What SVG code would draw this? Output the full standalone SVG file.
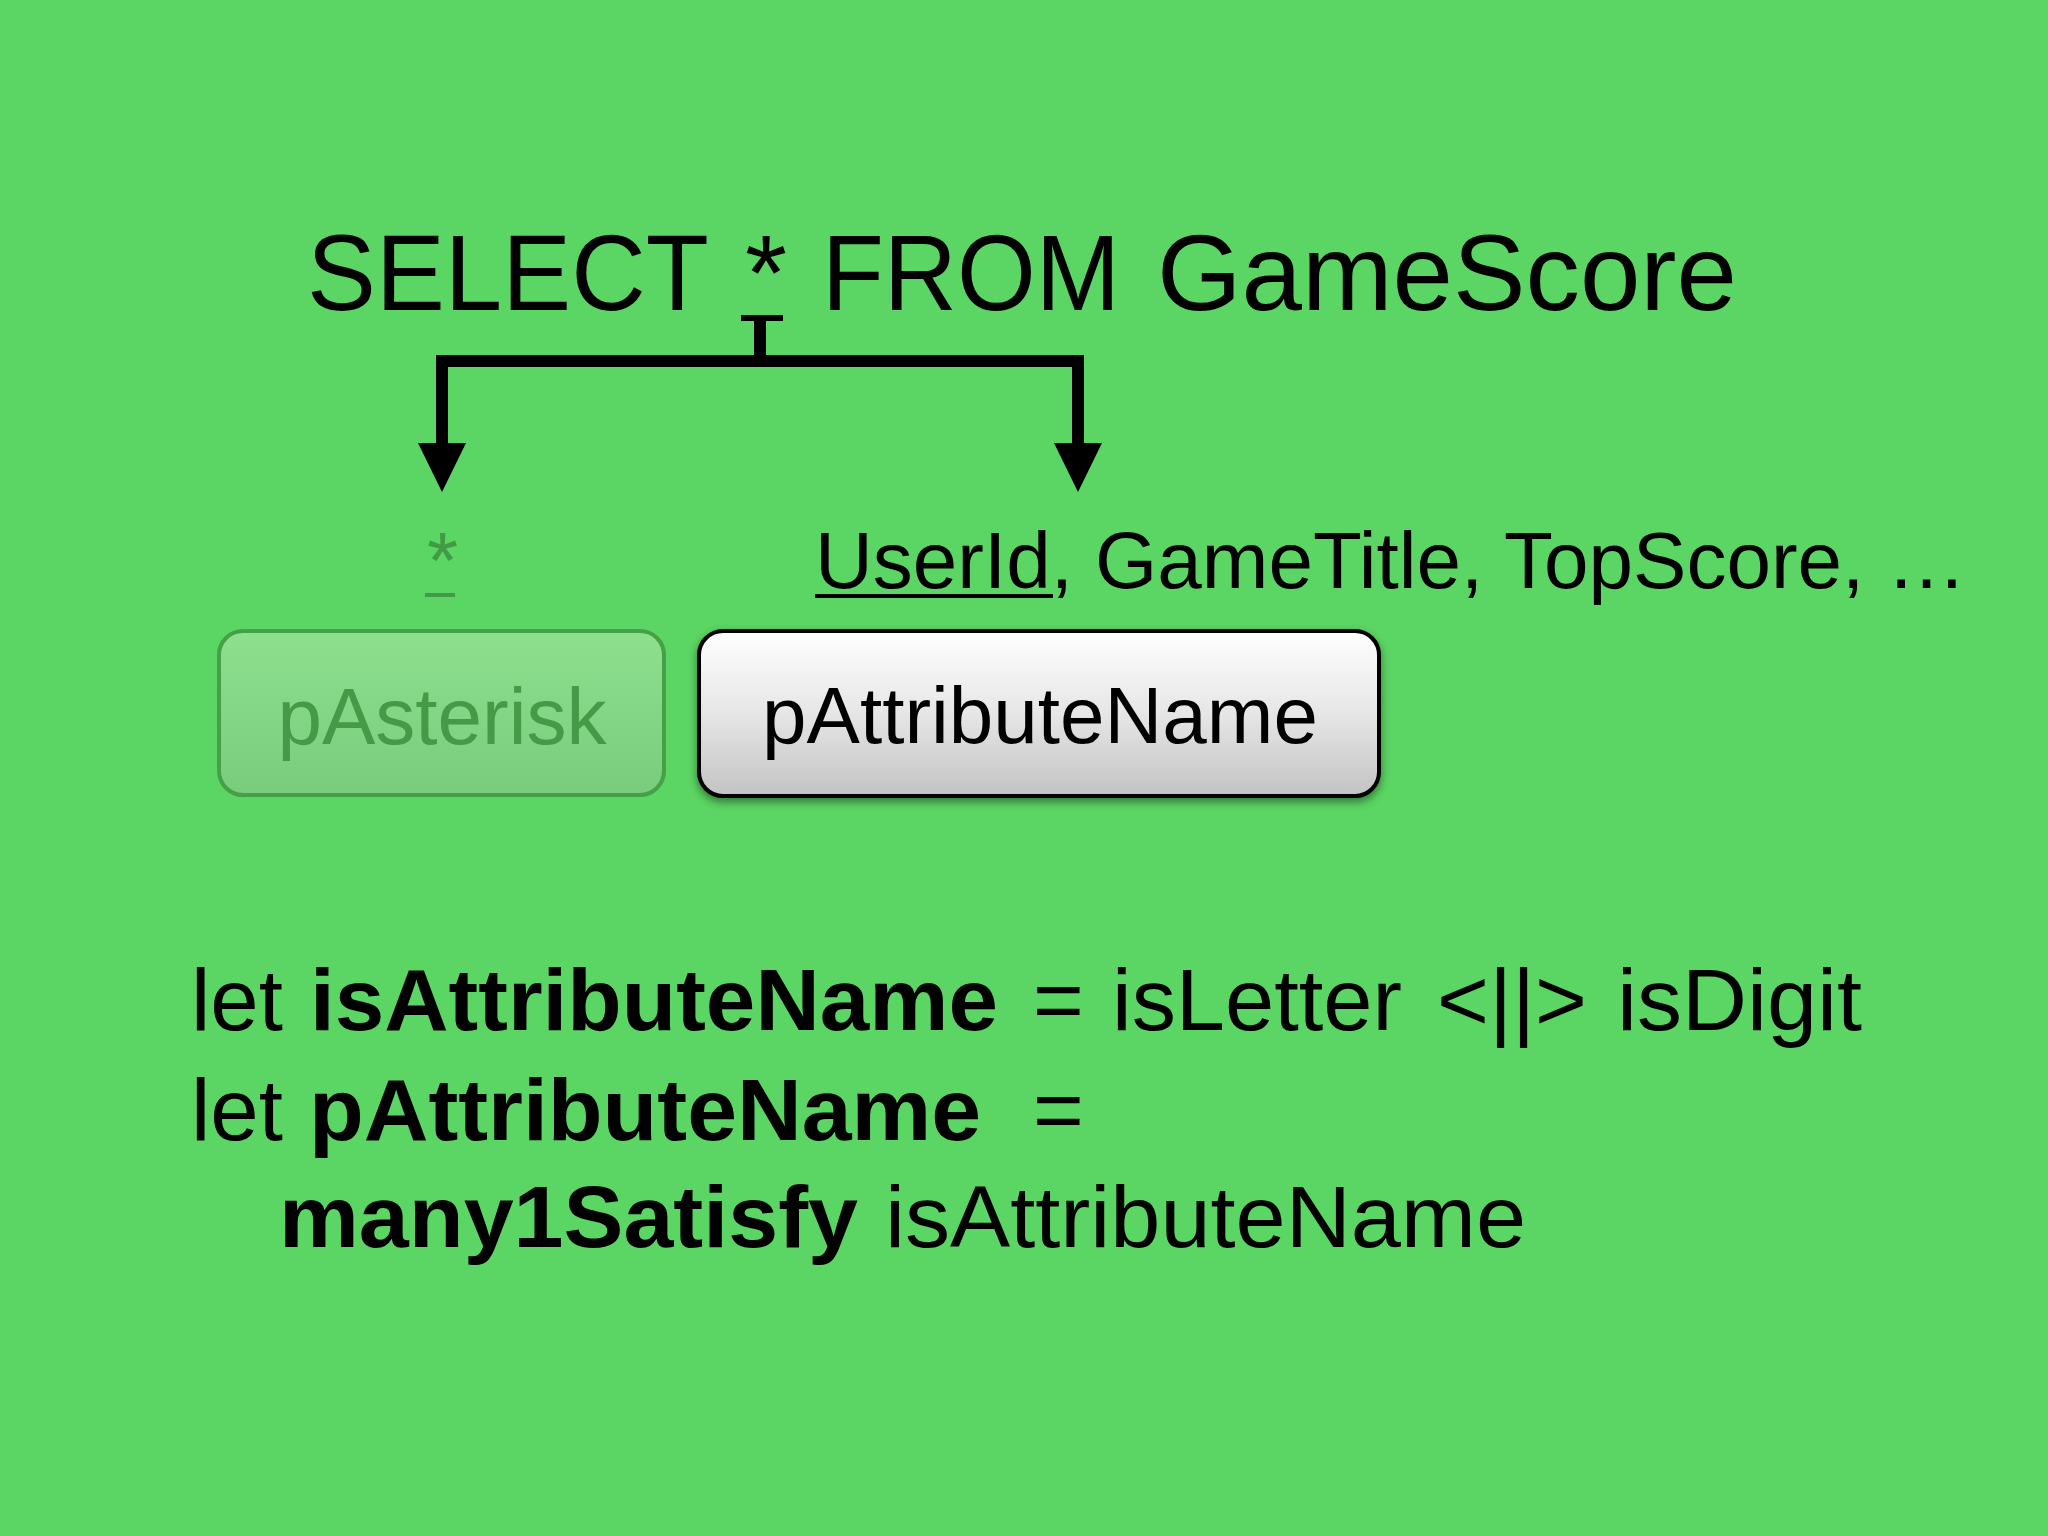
<svg xmlns="http://www.w3.org/2000/svg" width="2048" height="1536" viewBox="0 0 2048 1536">
  <style>
    text { font-family: "Liberation Sans", Arial, Helvetica, sans-serif; }
    .title { font-size: 108px; fill: #000; }
    .fields { font-size: 80px; fill: #000; }
    .star { font-size: 80px; fill: #429a44; }
    .label { font-size: 80px; text-anchor: middle; }
    .code { font-size: 87px; fill: #000; }
    .b { font-weight: bold; }
    .conn { fill: none; stroke: #000; stroke-linejoin: miter; stroke-linecap: butt; }
  </style>
  <defs>
    <linearGradient id="gWhite" x1="0" y1="0" x2="0" y2="1">
      <stop offset="0" stop-color="#ffffff"/>
      <stop offset="0.5" stop-color="#e6e6e6"/>
      <stop offset="1" stop-color="#c3c3c3"/>
    </linearGradient>
    <linearGradient id="gGreen" x1="0" y1="0" x2="0" y2="1">
      <stop offset="0" stop-color="#8ee08f"/>
      <stop offset="1" stop-color="#78cc7b"/>
    </linearGradient>
    <filter id="shadow" x="-10%" y="-10%" width="120%" height="130%">
      <feDropShadow dx="0" dy="4" stdDeviation="4" flood-color="#000" flood-opacity="0.45"/>
    </filter>
    <marker id="arrow" markerUnits="userSpaceOnUse" viewBox="0 0 49 48" refX="0" refY="24" markerWidth="49" markerHeight="48" orient="auto">
      <path d="M0,0 L49,24 L0,48 Z" fill="#000"/>
    </marker>
  </defs>

  <rect x="0" y="0" width="2048" height="1536" fill="#5bd563"/>

  <g id="title">
    <text class="title" y="310">
      <tspan x="307" textLength="400" lengthAdjust="spacingAndGlyphs">SELECT</tspan>
      <tspan x="745">*</tspan>
      <tspan x="822" textLength="298" lengthAdjust="spacingAndGlyphs">FROM</tspan>
      <tspan x="1157" textLength="580" lengthAdjust="spacingAndGlyphs">GameScore</tspan>
    </text>
  </g>

  <g id="connectors">
    <path class="conn" d="M741,318 H783" stroke-width="6"/>
    <path class="conn" d="M760,321 V361" stroke-width="12"/>
    <path class="conn" d="M760,361 H442 V443" stroke-width="12" marker-end="url(#arrow)"/>
    <path class="conn" d="M760,361 H1078 V443" stroke-width="12" marker-end="url(#arrow)"/>
  </g>

  <g id="star-target">
    <text class="star" x="427" y="588">*</text>
    <rect x="425" y="593" width="30" height="4" fill="#429a44"/>
  </g>

  <g id="fields-target">
    <text class="fields" y="588"><tspan x="815">UserId</tspan>, GameTitle, TopScore, …</text>
    <rect x="815" y="594" width="238" height="4" fill="#000"/>
  </g>

  <g id="pAsterisk">
    <rect x="219" y="631" width="445" height="164" rx="24" ry="24" fill="url(#gGreen)" stroke="#45a047" stroke-width="4"/>
    <text class="label" x="442" y="744" fill="#449a46">pAsterisk</text>
  </g>

  <g id="pAttributeName">
    <rect x="699" y="631" width="680" height="165" rx="24" ry="24" fill="url(#gWhite)" stroke="#000" stroke-width="4" filter="url(#shadow)"/>
    <text class="label" x="1040" y="743" fill="#000">pAttributeName</text>
  </g>

  <g id="code">
    <text class="code" y="1030">
      <tspan x="191">let</tspan>
      <tspan x="310" class="b" textLength="688" lengthAdjust="spacingAndGlyphs">isAttributeName</tspan>
      <tspan x="1033">=</tspan>
      <tspan x="1112" textLength="290" lengthAdjust="spacingAndGlyphs">isLetter</tspan>
      <tspan x="1437" textLength="150" lengthAdjust="spacingAndGlyphs">&lt;||&gt;</tspan>
      <tspan x="1617" textLength="245" lengthAdjust="spacingAndGlyphs">isDigit</tspan>
    </text>
    <text class="code" y="1140">
      <tspan x="191">let</tspan>
      <tspan x="309" class="b" textLength="672" lengthAdjust="spacingAndGlyphs">pAttributeName</tspan>
      <tspan x="1033">=</tspan>
    </text>
    <text class="code" y="1247">
      <tspan x="279" class="b" textLength="579" lengthAdjust="spacingAndGlyphs">many1Satisfy</tspan>
      <tspan x="885" textLength="641" lengthAdjust="spacingAndGlyphs">isAttributeName</tspan>
    </text>
  </g>
</svg>
